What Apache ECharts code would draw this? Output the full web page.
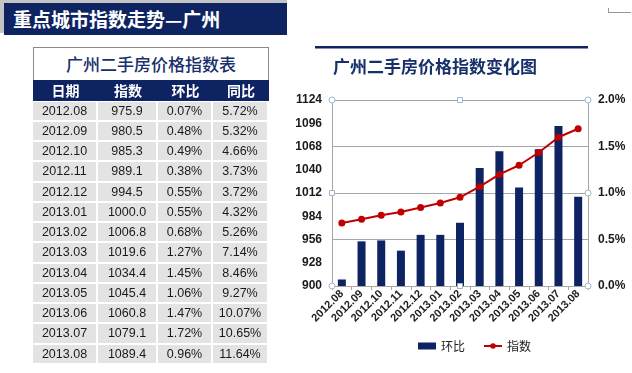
<!DOCTYPE html>
<html><head><meta charset="utf-8">
<script src="https://cdn.jsdelivr.net/npm/echarts@6/dist/echarts.min.js"></script>
<style>
html,body{margin:0;padding:0;background:#fff;width:632px;height:373px;overflow:hidden;}
#chart{position:absolute;left:0;top:0;width:632px;height:373px;}
#shadow{position:absolute;left:0;top:0;width:287px;height:33px;background:#C4C4C4;}
#bar{position:absolute;left:4px;top:3px;width:283px;height:32px;background:#0E2462;color:#fff;
 font:bold 19px "Noto Sans CJK SC";line-height:32px;padding-left:9px;box-sizing:border-box;}
#mark{position:absolute;left:608px;top:8px;width:22px;height:4px;border-left:1px solid #999;border-bottom:1px solid #999;}
#tbox{position:absolute;left:33px;top:47px;width:236px;height:33px;box-sizing:border-box;border:1px solid #8a8a8a;border-bottom:none;
 text-align:center;font:500 17px "Noto Sans CJK SC";color:#17306B;line-height:32px;background:#fff;}
.cell{position:absolute;text-align:center;box-sizing:border-box;}
.th{background:#0E2462;color:#fff;font:bold 14px "Noto Sans CJK SC";}
.td{background:#E3E3E3;color:#1a1a1a;font:12.5px "Liberation Sans";}
</style></head>
<body>
<div id="chart"></div>
<div id="shadow"></div>
<div id="bar">重点城市指数走势—广州</div>
<div id="mark"></div>
<div id="tbox">广州二手房价格指数表</div>
<div id="tbl"></div>
<script>
const pageTitle = '重点城市指数走势—广州';
const tableTitle = '广州二手房价格指数表';
const chartTitle = '广州二手房价格指数变化图';
const headers = ['日期','指数','环比','同比'];
const months = ['2012.08','2012.09','2012.10','2012.11','2012.12','2013.01','2013.02','2013.03','2013.04','2013.05','2013.06','2013.07','2013.08'];
const indexValues = [975.9,980.5,985.3,989.1,994.5,1000.0,1006.8,1019.6,1034.4,1045.4,1060.8,1079.1,1089.4];
const momValues = [0.07,0.48,0.49,0.38,0.55,0.55,0.68,1.27,1.45,1.06,1.47,1.72,0.96];
const yoyValues = [5.72,5.32,4.66,3.73,3.72,4.32,5.26,7.14,8.46,9.27,10.07,10.65,11.64];
const seriesNames = ['环比','指数'];

// table layout
const colW = [65,60,55,56];
const tLeft = 33, headTop = 80, headH = 21, rowTop = 101.5, rowH = 20.25;
const tbl = document.getElementById('tbl');
let html = '';
function cell(cls, x, y, w, h, txt){
  return '<div class="cell '+cls+'" style="left:'+x+'px;top:'+y+'px;width:'+w+'px;height:'+h+'px;line-height:'+h+'px">'+txt+'</div>';
}
let cx = tLeft;
headers.forEach((h,j)=>{ html += cell('th', cx, headTop, colW[j], headH, h); cx += colW[j]; });
months.forEach((m,i)=>{
  const vals = [m, indexValues[i].toFixed(1), momValues[i].toFixed(2)+'%', yoyValues[i].toFixed(2)+'%'];
  let x = tLeft;
  vals.forEach((v,j)=>{ html += cell('td', x, rowTop + i*rowH, colW[j]-2, rowH-2, v); x += colW[j]; });
});
tbl.innerHTML = html;

const chart = echarts.init(document.getElementById('chart'));
const G = {left:332, right:44, top:100, bottom:87};
const x0 = G.left, x1 = 632-G.right, y0 = G.top, y1 = 373-G.bottom;
const xm = (x0+x1)/2, ym = (y0+y1)/2;
const handleStyle = {fill:'#fff', stroke:'#9FB6CD', lineWidth:1};
function circ(x,y){return {type:'circle', shape:{cx:x,cy:y,r:3}, style:handleStyle, z:100};}
function sq(x,y){return {type:'rect', shape:{x:x-2.5,y:y-2.5,width:5,height:5}, style:handleStyle, z:100};}
const gray = '#A6A6A6';
chart.setOption({
  backgroundColor:'#fff',
  animation:false,
  title:{text:chartTitle, left:328, top:53, textStyle:{fontFamily:'Noto Sans CJK SC', fontSize:17, fontWeight:'bold', color:'#17306B'}},
  graphic:[
    {type:'rect', shape:{x:315,y:46,width:273,height:2.5}, style:{fill:'#0E2462'}},
    circ(x0,y0), circ(x1,y0), circ(x0,y1), circ(x1,y1), circ(x1,ym),
    sq(xm,y0), sq(xm,y1), sq(x0,ym)
  ],
  legend:{data:[{name:'环比', icon:'rect'}, {name:'指数'}], top:335, left:413, itemWidth:18, itemHeight:7, itemGap:18,
    textStyle:{fontFamily:'Noto Sans CJK SC', fontSize:12, color:'#222'}},
  grid:{left:G.left, right:G.right, top:G.top, bottom:G.bottom, containLabel:false},
  xAxis:{type:'category', data:months, boundaryGap:true,
    axisLine:{lineStyle:{color:gray}}, axisTick:{show:true, length:4, lineStyle:{color:gray}},
    axisLabel:{rotate:45, fontSize:11, fontWeight:'bold', color:'#222', fontFamily:'Liberation Sans', margin:6, interval:0}},
  yAxis:[
    {type:'value', min:900, max:1124, interval:28, position:'left',
     axisLine:{show:true, lineStyle:{color:gray}}, axisTick:{show:false}, splitLine:{show:false},
     axisLabel:{fontSize:12, fontWeight:'bold', color:'#1a1a1a', fontFamily:'Liberation Sans', margin:10,
       formatter:v=>String(v)}},
    {type:'value', min:0, max:2, interval:0.5, position:'right',
     axisLine:{show:true, lineStyle:{color:gray}}, axisTick:{show:false},
     splitLine:{show:true, lineStyle:{color:gray, width:1}},
     axisLabel:{fontSize:12, fontWeight:'bold', color:'#1a1a1a', fontFamily:'Liberation Sans', margin:10,
       formatter:v=>v.toFixed(1)+'%'}}
  ],
  series:[
    {name:seriesNames[0], type:'bar', yAxisIndex:1, data:momValues, barWidth:8, itemStyle:{color:'#0E2462'}, z:2},
    {name:seriesNames[1], type:'line', yAxisIndex:0, data:indexValues, symbol:'circle', symbolSize:7,
     lineStyle:{color:'#C00000', width:2}, itemStyle:{color:'#C00000'}, z:3}
  ]
});
</script>
</body></html>
